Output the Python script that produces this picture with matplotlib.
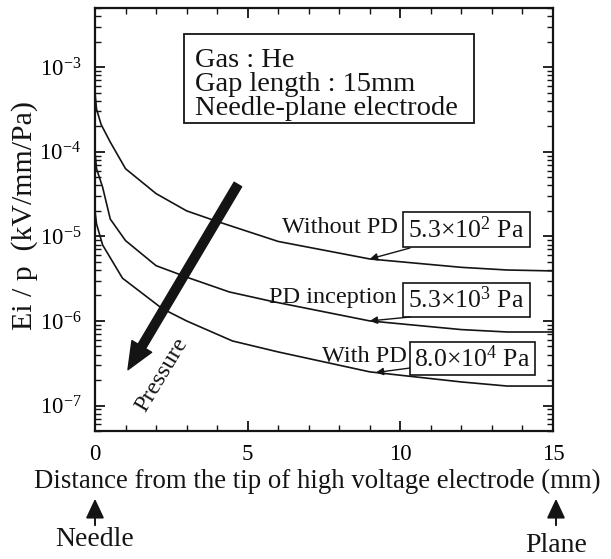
import numpy as np
import matplotlib
matplotlib.use("Agg")
import matplotlib.pyplot as plt
from matplotlib.patches import Rectangle, FancyArrowPatch
from matplotlib.ticker import LogLocator, MultipleLocator, NullFormatter

plt.rcParams["font.family"] = ["Liberation Serif", "DejaVu Serif"]
plt.rcParams["mathtext.fontset"] = "custom"
plt.rcParams["mathtext.rm"] = "Liberation Serif"
plt.rcParams["mathtext.it"] = "Liberation Serif:italic"
plt.rcParams["mathtext.bf"] = "Liberation Serif:bold"

# Ei/p along the gap for three pressures
distance_without = [0.0, 0.05, 0.2, 0.5, 1.0, 2.0, 3.0, 4.0, 6.0, 9.0, 12.0, 13.5, 15.0]
ei_without = [5.0e-4, 3.2e-4, 2.1e-4, 1.3e-4, 6.3e-5, 3.2e-5, 2.0e-5, 1.5e-5,
              8.7e-6, 5.4e-6, 4.3e-6, 4.0e-6, 3.9e-6]

distance_inception = [0.0, 0.05, 0.25, 0.5, 1.0, 2.0, 3.1, 4.4, 5.8, 9.0, 12.0, 13.5, 15.0]
ei_inception = [1.0e-4, 6.3e-5, 3.8e-5, 1.6e-5, 8.9e-6, 4.5e-6, 3.2e-6, 2.2e-6,
                1.7e-6, 1.0e-6, 7.9e-7, 7.4e-7, 7.4e-7]

distance_with = [0.0, 0.05, 0.25, 0.9, 2.2, 3.0, 4.5, 6.0, 9.0, 12.0, 13.5, 15.0]
ei_with = [2.0e-5, 1.4e-5, 7.9e-6, 3.2e-6, 1.4e-6, 1.0e-6, 5.8e-7, 4.3e-7,
           2.5e-7, 1.9e-7, 1.7e-7, 1.7e-7]

series_names = ["Without PD", "PD inception", "With PD"]
pressure_labels = ["5.3\u00d710$^{2}$ Pa", "5.3\u00d710$^{3}$ Pa", "8.0\u00d710$^{4}$ Pa"]
pointer_x = [9.0, 9.0, 9.2]

info_lines = ["Gas : He", "Gap length : 15mm", "Needle-plane electrode"]
x_ticks = [0, 5, 10, 15]

W, H = 611, 559
fig = plt.figure(figsize=(W / 100, H / 100), dpi=100)
L, R, T, B = 95, 553, 8, 431
ax = fig.add_axes([L / W, (H - B) / H, (R - L) / W, (B - T) / H])

ink = "#141414"
curves = [(distance_without, ei_without),
          (distance_inception, ei_inception),
          (distance_with, ei_with)]
for xs, ys in curves:
    ax.plot(xs, ys, color=ink, lw=1.2, solid_joinstyle="round")

ax.set_yscale("log")
ax.set_xlim(0, 15)
ax.set_ylim(5e-8, 5e-3)
ax.set_xticks(x_ticks)
ax.xaxis.set_minor_locator(MultipleLocator(1))
ax.yaxis.set_major_locator(LogLocator(base=10, numticks=20))
ax.yaxis.set_minor_locator(LogLocator(base=10, subs=np.arange(2, 10), numticks=40))
ax.yaxis.set_minor_formatter(NullFormatter())

for s in ax.spines.values():
    s.set_linewidth(1.6)
    s.set_color(ink)
ax.tick_params(which="both", direction="in", top=True, right=True, color=ink)
ax.tick_params(which="major", length=7, width=1.3, labelsize=16.5, pad=9)
ax.tick_params(which="minor", length=4, width=1.0)
ax.tick_params(axis="y", which="major", pad=10)


def fx(px):
    return (px - L) / (R - L)


def fy(py):
    return (B - py) / (B - T)


# Conditions box
ax.add_patch(Rectangle((fx(184), fy(123)), fx(474) - fx(184), fy(34) - fy(123),
                       transform=ax.transAxes, fill=False, lw=1.3, ec=ink))
for line, base in zip(info_lines, [67, 91, 115]):
    ax.text(fx(195), fy(base), line, transform=ax.transAxes, fontsize=20.5,
            va="baseline", ha="left", color=ink)

# Series labels with pressure boxes and pointers
box_rows = [(212, 247), (283, 317), (342, 375)]
box_cols = [(403, 530), (403, 530), (410, 535)]
name_right = [398, 397, 407]
starts = [(410, 248), (410, 317), (410, 368)]
for (xs, ys), name, plabel, px, (yt, yb), (xl, xr), nr, (sx, sy) in zip(
        curves, series_names, pressure_labels, pointer_x, box_rows, box_cols,
        name_right, starts):
    ax.add_patch(Rectangle((fx(xl), fy(yb)), fx(xr) - fx(xl), fy(yt) - fy(yb),
                           transform=ax.transAxes, fill=False, lw=1.2, ec=ink))
    ax.text((fx(xl) + fx(xr)) / 2, (fy(yt) + fy(yb)) / 2, plabel,
            transform=ax.transAxes, fontsize=18.5, ha="center", va="center", color=ink)
    ax.text(fx(nr), (fy(yt) + fy(yb)) / 2 + 0.005, name, transform=ax.transAxes,
            fontsize=17.5, ha="right", va="center", color=ink)
    target_y = 10 ** np.interp(px, xs, np.log10(ys))
    ax.annotate("", xy=(px, target_y), xycoords="data",
                xytext=(fx(sx), fy(sy)), textcoords="axes fraction",
                arrowprops=dict(arrowstyle="-|>", lw=1.0, color=ink,
                                mutation_scale=11, shrinkA=0, shrinkB=0))

# Pressure trend arrow
ax.annotate("", xy=(1.08, 2.65e-7), xytext=(4.68, 4.1e-5),
            arrowprops=dict(arrowstyle="simple,head_length=1.3,head_width=1.1,tail_width=0.42",
                            color=ink, mutation_scale=15, shrinkA=0, shrinkB=0))
ax.text(2.2, 2.3e-7, "Pressure", fontsize=17.5, rotation=59, rotation_mode="anchor",
        ha="center", va="center", color=ink)

# Axis titles
fig.text(317 / W, 1 - 481 / H, "Distance from the tip of high voltage electrode (mm)",
         fontsize=19.3, ha="center", va="center", color=ink)
fig.text(25 / W, 1 - 216 / H, "Ei / p  (kV/mm/Pa)", fontsize=21.5, rotation=90,
         ha="center", va="center", color=ink)

# Electrode markers under the axis
for xpix, label, ty in [(95, "Needle", 540), (556, "Plane", 545)]:
    fig.add_artist(FancyArrowPatch(
        (xpix / W, 1 - 528 / H), (xpix / W, 1 - 496 / H), transform=fig.transFigure,
        arrowstyle="-|>,head_length=0.85,head_width=0.4", mutation_scale=14,
        lw=1.4, color=ink))
    fig.text(xpix / W, 1 - ty / H, label, fontsize=20, ha="center", va="center",
             color=ink)

fig.savefig("out.png", dpi=100)
